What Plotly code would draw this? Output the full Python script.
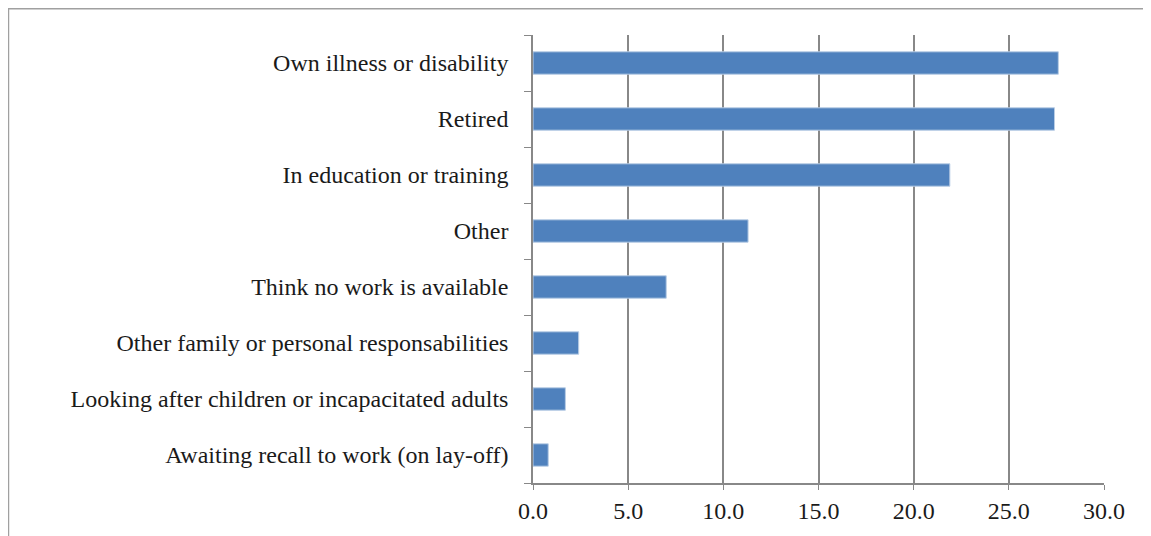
import plotly.graph_objects as go

# categories listed bottom to top
reasons = [
    "Awaiting recall to work (on lay-off)",
    "Looking after children or incapacitated adults",
    "Other family or personal responsabilities",
    "Think no work is available",
    "Other",
    "In education or training",
    "Retired",
    "Own illness or disability",
]
percent = [0.8, 1.7, 2.4, 7.0, 11.3, 21.9, 27.4, 27.6]
x_ticks = [0, 5, 10, 15, 20, 25, 30]
x_labels = ["0.0", "5.0", "10.0", "15.0", "20.0", "25.0", "30.0"]

serif = "Liberation Serif, Times New Roman, serif"

fig = go.Figure(go.Bar(
    x=percent,
    y=reasons,
    orientation="h",
    marker=dict(color="#4F81BD", line=dict(color="#B9CDE5", width=1)),
    width=0.4,
))

# the page body adds 8px on the left/top, so the figure is sized to fit
fig.update_layout(
    width=1143, height=528,
    margin=dict(l=525, r=47, t=27, b=48),
    paper_bgcolor="white", plot_bgcolor="white",
    font=dict(family=serif, size=24, color="#1a1a1a"),
    showlegend=False,
    xaxis=dict(
        range=[0, 30], tickvals=x_ticks, ticktext=x_labels,
        showgrid=True, gridcolor="#888888", gridwidth=1.5,
        showline=True, linecolor="#888888", linewidth=1.5,
        ticks="outside", ticklen=5, tickcolor="#888888",
        zeroline=False, fixedrange=True,
        tickfont=dict(size=24),
    ),
    yaxis=dict(
        categoryorder="array", categoryarray=reasons,
        showline=True, linecolor="#888888", linewidth=1.5,
        ticks="outside", ticklen=7, tickcolor="#888888",
        tickson="boundaries", showgrid=False,
        ticklabelstandoff=18, fixedrange=True,
    ),
    shapes=[dict(
        type="rect", xref="paper", yref="paper",
        x0=-0.9186, x1=1.2, y0=-0.3, y1=1.0585,
        line=dict(color="#A0A0A0", width=1.5), layer="below",
    )],
)

fig.write_html("out.html")
